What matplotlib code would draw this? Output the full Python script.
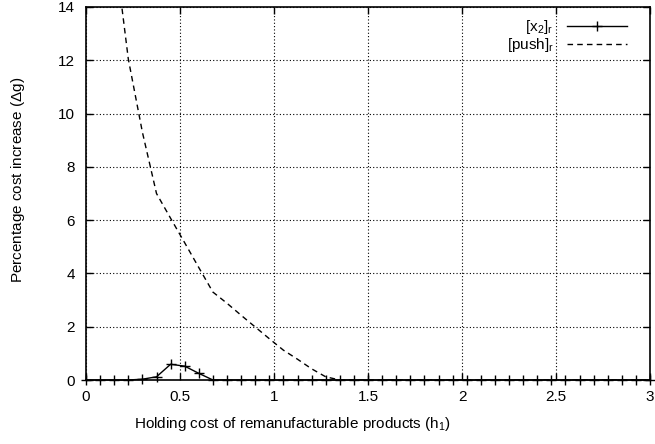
import numpy as np
import matplotlib
matplotlib.use("Agg")
import matplotlib.pyplot as plt

plt.rcParams['font.family'] = ['Liberation Sans', 'DejaVu Sans']
plt.rcParams['mathtext.fontset'] = 'custom'
plt.rcParams['mathtext.rm'] = 'Liberation Sans'
plt.rcParams['mathtext.it'] = 'Liberation Sans'

# holding cost grid (h1)
h1 = np.arange(41) * 0.075

# [x2]_r series
x2_r = [0, 0, 0, 0, 0.03, 0.12, 0.59, 0.52, 0.25, 0, 0,
        0, 0, 0, 0, 0, 0, 0, 0, 0, 0,
        0, 0, 0, 0, 0, 0, 0, 0, 0, 0,
        0, 0, 0, 0, 0, 0, 0, 0, 0, 0]

# [push]_r series (starts at h1 = 0.15, earlier values off the chart)
push_h1 = h1[2:]
push_r = [16.3, 12.05, 9.3, 7.0, 6.07, 5.15, 4.22, 3.3, 2.88, 2.43, 1.99,
          1.55, 1.12, 0.78, 0.42, 0.12, 0, 0, 0, 0, 0,
          0, 0, 0, 0, 0, 0, 0, 0, 0, 0,
          0, 0, 0, 0, 0, 0, 0, 0]

fig = plt.figure(figsize=(6.55, 4.44), dpi=100)
ax = fig.add_axes([86/655, 1-380/444, 564/655, 373/444])

ax.plot(h1, x2_r, color="black", lw=1, marker="+", ms=7, mew=1,
        label=r"[x$_2$]$_\mathrm{r}$", clip_on=False, zorder=3)
ax.plot(push_h1, push_r, color="black", lw=1, linestyle=(0, (4, 3)),
        label=r"[push]$_\mathrm{r}$", zorder=3)

ax.set_xlim(0, 3)
ax.set_ylim(0, 14)
ax.set_xticks(np.arange(0, 3.01, 0.5))
ax.set_xticklabels(["0", "0.5", "1", "1.5", "2", "2.5", "3"])
ax.set_yticks(np.arange(0, 14.01, 2))

ax.grid(True, color="black", linestyle=(0, (1, 2)), lw=0.8)
ax.tick_params(direction="in", length=5, width=1, top=True, right=True,
               labelsize=11)
ax.tick_params(axis="x", pad=7)
ax.tick_params(axis="y", pad=8)
for s in ax.spines.values():
    s.set_linewidth(1.2)

ax.set_xlabel(r"Holding cost of remanufacturable products (h$_1$)", fontsize=11)
ax.set_ylabel(r"Percentage cost increase ($\Delta$g)", fontsize=11)
ax.xaxis.set_label_coords((292-86)/564, -0.095)
ax.yaxis.set_label_coords(-0.105, 0.536)

ax.legend(loc="upper right", bbox_to_anchor=(0.97, 0.987), borderaxespad=0,
          frameon=False, markerfirst=False, numpoints=1,
          handlelength=3.9, handletextpad=0.9, labelspacing=0.0,
          fontsize=11)

fig.savefig("out.png", dpi=100)
